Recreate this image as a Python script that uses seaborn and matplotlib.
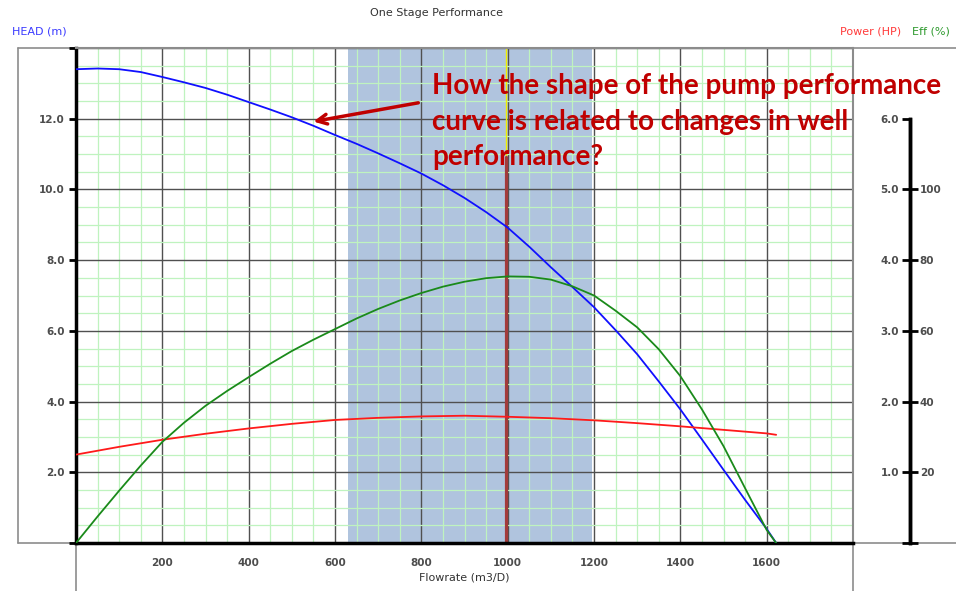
import numpy as np
import pandas as pd
import matplotlib
matplotlib.use("Agg")
import matplotlib.pyplot as plt
import seaborn as sns
from matplotlib.lines import Line2D

# ---------------- data ----------------
flow_head = [0, 50, 100, 150, 200, 250, 300, 350, 400, 450, 500, 550, 600, 650,
             700, 750, 800, 850, 900, 950, 1000, 1050, 1100, 1150, 1200, 1250,
             1300, 1350, 1400, 1450, 1500, 1550, 1600, 1622]
head = [13.40, 13.42, 13.40, 13.32, 13.18, 13.03, 12.87, 12.68, 12.47, 12.26,
        12.04, 11.80, 11.54, 11.29, 11.02, 10.74, 10.45, 10.12, 9.76, 9.36,
        8.92, 8.38, 7.80, 7.24, 6.67, 6.02, 5.34, 4.57, 3.78, 2.93, 2.07, 1.22,
        0.40, 0.0]

flow_eff = [0, 50, 100, 150, 200, 250, 300, 350, 400, 450, 500, 550, 600, 650,
            700, 750, 800, 850, 900, 950, 1000, 1050, 1100, 1150, 1200, 1250,
            1300, 1350, 1400, 1450, 1500, 1550, 1600, 1622]
eff = [0, 7.5, 14.8, 21.9, 28.6, 34.0, 38.8, 43.0, 46.9, 50.7, 54.3, 57.5, 60.5,
       63.5, 66.2, 68.6, 70.7, 72.5, 73.9, 74.9, 75.4, 75.3, 74.5, 72.6, 70.0,
       65.7, 61.0, 54.8, 47.2, 37.8, 27.4, 15.5, 3.7, 0.0]

flow_power = [0, 100, 200, 300, 400, 500, 600, 700, 800, 900, 1000, 1100, 1200,
              1300, 1400, 1500, 1600, 1622]
power = [1.25, 1.36, 1.46, 1.545, 1.62, 1.685, 1.74, 1.77, 1.79, 1.80, 1.785,
         1.765, 1.735, 1.695, 1.65, 1.60, 1.55, 1.53]

x_ticks = [0, 200, 400, 600, 800, 1000, 1200, 1400, 1600, 1800]
x_tick_labels = ["", "200", "400", "600", "800", "1000", "1200", "1400", "1600", ""]
head_ticks = [0, 2, 4, 6, 8, 10, 12, 14]
head_tick_labels = ["", "2.0", "4.0", "6.0", "8.0", "10.0", "12.0", ""]
power_ticks = [0, 1, 2, 3, 4, 5, 6]
power_tick_labels = ["", "1.0", "2.0", "3.0", "4.0", "5.0", "6.0"]
eff_ticks = [0, 20, 40, 60, 80, 100]
eff_tick_labels = ["", "20", "40", "60", "80", "100"]

operating_range = (630, 1195)
operating_point = 995

title = "One Stage Performance"
question = ["How the shape of the pump performance",
            "curve is related to changes in well",
            "performance?"]

# ---------------- style ----------------
sns.set_style("white")
plt.rcParams["font.family"] = ["DejaVu Sans"]

W, H = 956, 591
fig = plt.figure(figsize=(W / 100, H / 100), dpi=100)
fig.patch.set_facecolor("white")

L, R, T, B = 76, 853, 48, 543
ax = fig.add_axes([L / W, 1 - B / H, (R - L) / W, (B - T) / H])

TICK_COL = "#4d4d4d"
tick_font = dict(fontsize=7.5, fontweight="bold", color=TICK_COL)

# shading and grid
ax.axvspan(*operating_range, color="#B0C4DE", zorder=0.2, lw=0)
ax.set_axisbelow(True)
ax.set_xlim(0, 1800)
ax.set_ylim(0, 14)
ax.set_xticks(x_ticks)
ax.set_xticklabels(x_tick_labels, **tick_font)
ax.set_yticks(head_ticks)
ax.set_yticklabels(head_tick_labels, **tick_font)
ax.set_xticks(np.arange(0, 1801, 50), minor=True)
ax.set_yticks(np.arange(0, 14.01, 0.5), minor=True)
ax.grid(which="minor", color="#bff3bf", lw=0.9)
ax.grid(which="major", color="#505050", lw=1.0)
ax.tick_params(which="minor", length=0)
ax.tick_params(axis="x", which="major", direction="out", length=5, width=2,
               color="black", pad=6)
ax.tick_params(axis="y", which="major", direction="out", length=5, width=2,
               color="black", pad=3)

for s in ["left", "bottom"]:
    ax.spines[s].set_color("black")
    ax.spines[s].set_linewidth(2.5)
for s in ["top", "right"]:
    ax.spines[s].set_color("#8c8c8c")
    ax.spines[s].set_linewidth(1.5)

# vertical marker
ax.axvline(operating_point, color="#f0f000", lw=1, zorder=1.5)
ax.axvline(operating_point, ymin=0, ymax=10.92 / 14, color="#A33B3B", lw=2.3, zorder=1.6)

# head curve
sns.lineplot(x=flow_head, y=head, ax=ax, color="#1010ff", lw=1.3, zorder=3)
ax.set_xlabel("Flowrate (m3/D)", fontsize=8, color="#333333", labelpad=3)
ax.set_ylabel("")

# power axis (labels left of the right spine)
POS = (910 - L) / (R - L)
ax_p = ax.twinx()
ax_p.set_ylim(0, 7)
for s in ["top", "bottom", "right"]:
    ax_p.spines[s].set_visible(False)
ax_p.spines["left"].set_visible(True)
ax_p.spines["left"].set_position(("axes", POS))
ax_p.spines["left"].set_bounds(0, 6)
ax_p.spines["left"].set_linewidth(2.5)
ax_p.spines["left"].set_color("black")
ax_p.yaxis.set_ticks_position("left")
ax_p.yaxis.set_label_position("left")
ax_p.set_yticks(power_ticks)
ax_p.set_yticklabels(power_tick_labels, **tick_font)
ax_p.tick_params(axis="y", direction="out", length=6, width=2, color="black", pad=2)
ax_p.grid(False)
sns.lineplot(x=flow_power, y=power, ax=ax_p, color="#ff1a1a", lw=1.3, zorder=3)
ax_p.set_ylabel("")

# efficiency axis (labels right of the right spine)
ax_e = ax.twinx()
ax_e.set_ylim(0, 140)
for s in ["top", "bottom", "left"]:
    ax_e.spines[s].set_visible(False)
ax_e.spines["right"].set_position(("axes", POS))
ax_e.spines["right"].set_bounds(0, 120)
ax_e.spines["right"].set_linewidth(2.5)
ax_e.spines["right"].set_color("black")
ax_e.set_yticks(eff_ticks)
ax_e.set_yticklabels(eff_tick_labels, **tick_font)
ax_e.tick_params(axis="y", direction="out", length=6, width=2, color="black", pad=1)
ax_e.grid(False)
sns.lineplot(x=flow_eff, y=eff, ax=ax_e, color="#1a8a1a", lw=1.3, zorder=3)
ax_e.set_ylabel("")
ax_e.set_xlim(0, 1800)

# annotation text + arrow (on top)
q_kw = dict(fontsize=20, fontweight="bold", color="#C00000",
            family=["Lato", "DejaVu Sans"], ha="left", va="baseline",
            transform=ax.transData, zorder=10)
for line, yb in zip(question, [12.70, 11.68, 10.68]):
    ax_e.text(825, yb, line, **q_kw)
ax_e.annotate("", xy=(550, 11.92), xytext=(793, 12.45),
              xycoords=ax.transData, textcoords=ax.transData,
              arrowprops=dict(arrowstyle="->,head_length=0.7,head_width=0.35",
                              color="#C00000", lw=2.5, shrinkA=0, shrinkB=0),
              zorder=10)

# frame lines (figure pixel coordinates)
def fline(x0, y0, x1, y1, **kw):
    fig.add_artist(Line2D([x0 / W, x1 / W], [1 - y0 / H, 1 - y1 / H],
                          transform=fig.transFigure, **kw))

gk = dict(color="#8c8c8c", lw=1.2, zorder=0)
fline(18, T, W, T, **gk)
fline(18, T, 18, B, **gk)
fline(18, B, W, B, **gk)
fline(L, B, L, H, **gk)
fline(R, B, R, H, **gk)

# titles / labels
fig.text(437 / W, 1 - 13 / H, title, ha="center", va="center", fontsize=8, color="#333333")
fig.text(12 / W, 1 - 31 / H, "HEAD (m)", ha="left", va="center", fontsize=8, color="#3a3aff")
fig.text(840 / W, 1 - 31 / H, "Power (HP)", ha="left", va="center", fontsize=8, color="#ff3a3a")
fig.text(912 / W, 1 - 31 / H, "Eff (%)", ha="left", va="center", fontsize=8, color="#2e9a2e")

fig.savefig("out.png", dpi=100, facecolor="white")
